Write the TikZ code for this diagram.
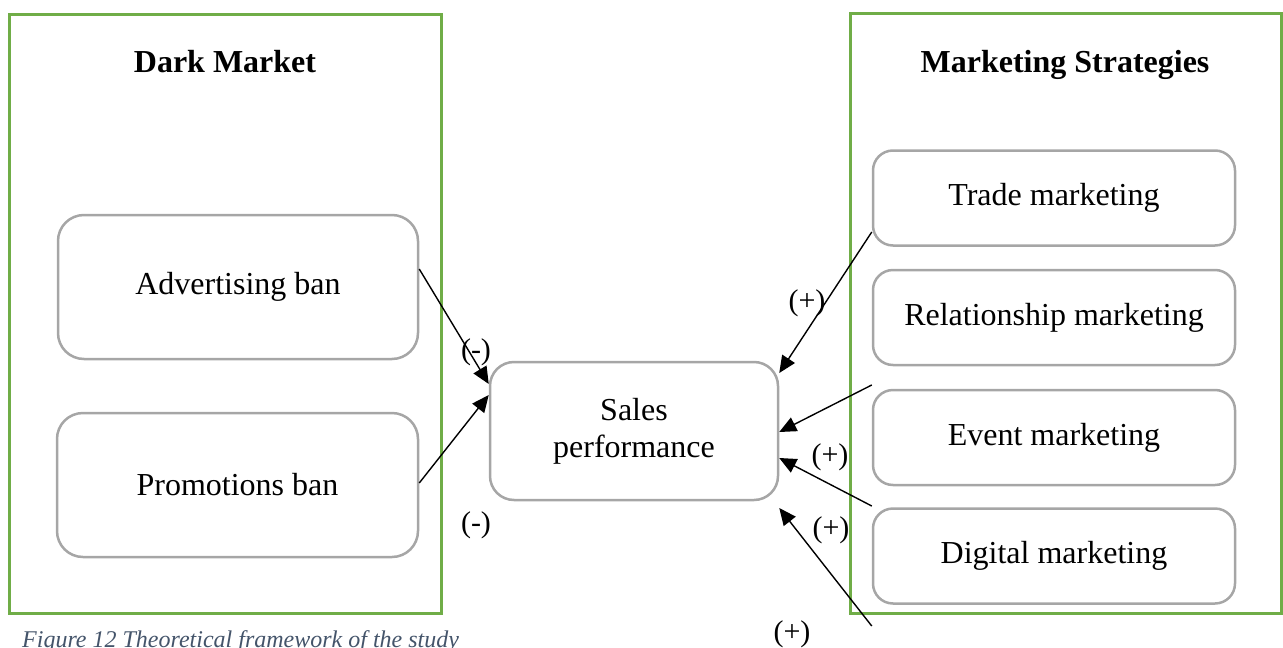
\documentclass[tikz,border=0pt]{standalone}
\usepackage{fontspec}
\setmainfont{Liberation Serif}
\usetikzlibrary{arrows.meta}
\definecolor{frameGreen}{HTML}{70AD47}
\definecolor{boxGray}{HTML}{A6A6A6}
\definecolor{capBlue}{HTML}{44546A}
\tikzset{
  groupframe/.style={draw=frameGreen, line width=3pt, rectangle, inner sep=0pt},
  item/.style={draw=boxGray, line width=2.5pt, rectangle, rounded corners=22pt,
    align=center, inner sep=0pt, font=\fontsize{32}{37}\selectfont},
  grouptitle/.style={anchor=base, font=\fontsize{32}{37}\selectfont\bfseries},
  sign/.style={inner sep=0pt, font=\fontsize{30}{34}\selectfont},
  conn/.style={-{Triangle[length=17pt,width=15pt]}, line width=1.4pt, black},
}
\begin{document}
\begin{tikzpicture}[x=1pt, y=-1pt]
  \useasboundingbox (0,0) rectangle (1283,648);

  % group frames
  \node[groupframe, minimum width=432pt, minimum height=599pt] (dark) at (225,313.5) {};
  \node[groupframe, minimum width=431pt, minimum height=600pt] (strat) at (1065.5,313) {};
  \node[grouptitle] (darktitle) at (225,72) {Dark Market};
  \node[grouptitle] (strattitle) at (1065,72) {Marketing Strategies};

  % left-hand factors
  \node[item, minimum width=360pt, minimum height=144pt, rounded corners=26pt] (adv) at (238,287) {Advertising ban};
  \node[item, minimum width=361pt, minimum height=144pt, rounded corners=26pt] (promo) at (237.5,485) {Promotions ban};

  % outcome
  \node[item, minimum width=288pt, minimum height=138pt, rounded corners=24pt] (sales) at (634,431) {Sales\\performance};

  % right-hand strategies
  \node[item, minimum width=362pt, minimum height=95pt, rounded corners=20pt] (trade) at (1054,198) {Trade marketing};
  \node[item, minimum width=362pt, minimum height=95pt, rounded corners=20pt] (rel) at (1054,317.5) {Relationship marketing};
  \node[item, minimum width=362pt, minimum height=95pt, rounded corners=20pt] (event) at (1054,437.5) {Event marketing};
  \node[item, minimum width=362pt, minimum height=95pt, rounded corners=20pt] (digital) at (1054,556) {Digital marketing};

  % connectors
  \draw[conn] ([yshift=18pt]adv.east) -- ([yshift=47pt]sales.west);
  \draw[conn] ([yshift=2pt]promo.east) -- ([yshift=36pt]sales.west);
  \draw[conn] ([yshift=-34pt]trade.west) -- ([yshift=58pt]sales.east);
  \draw[conn] ([yshift=-67.5pt]rel.west) -- ([yshift=-1pt]sales.east);
  \draw[conn] ([yshift=-68.5pt]event.west) -- ([yshift=-27pt]sales.east);
  \draw[conn] ([yshift=-70pt]digital.west) -- ([yshift=-77pt]sales.east);

  % effect signs
  \node[sign] (s1) at (476,352) {(-)};
  \node[sign] (s2) at (476,525) {(-)};
  \node[sign] (s3) at (807,303) {(+)};
  \node[sign] (s4) at (830,457) {(+)};
  \node[sign] (s5) at (831,530) {(+)};
  \node[sign] (s6) at (792,634) {(+)};

  % caption
  \node[anchor=base west, inner sep=0pt, text=capBlue, font=\fontsize{24}{28}\selectfont\itshape] (cap) at (22,647) {Figure 12 Theoretical framework of the study};
\end{tikzpicture}
\end{document}
